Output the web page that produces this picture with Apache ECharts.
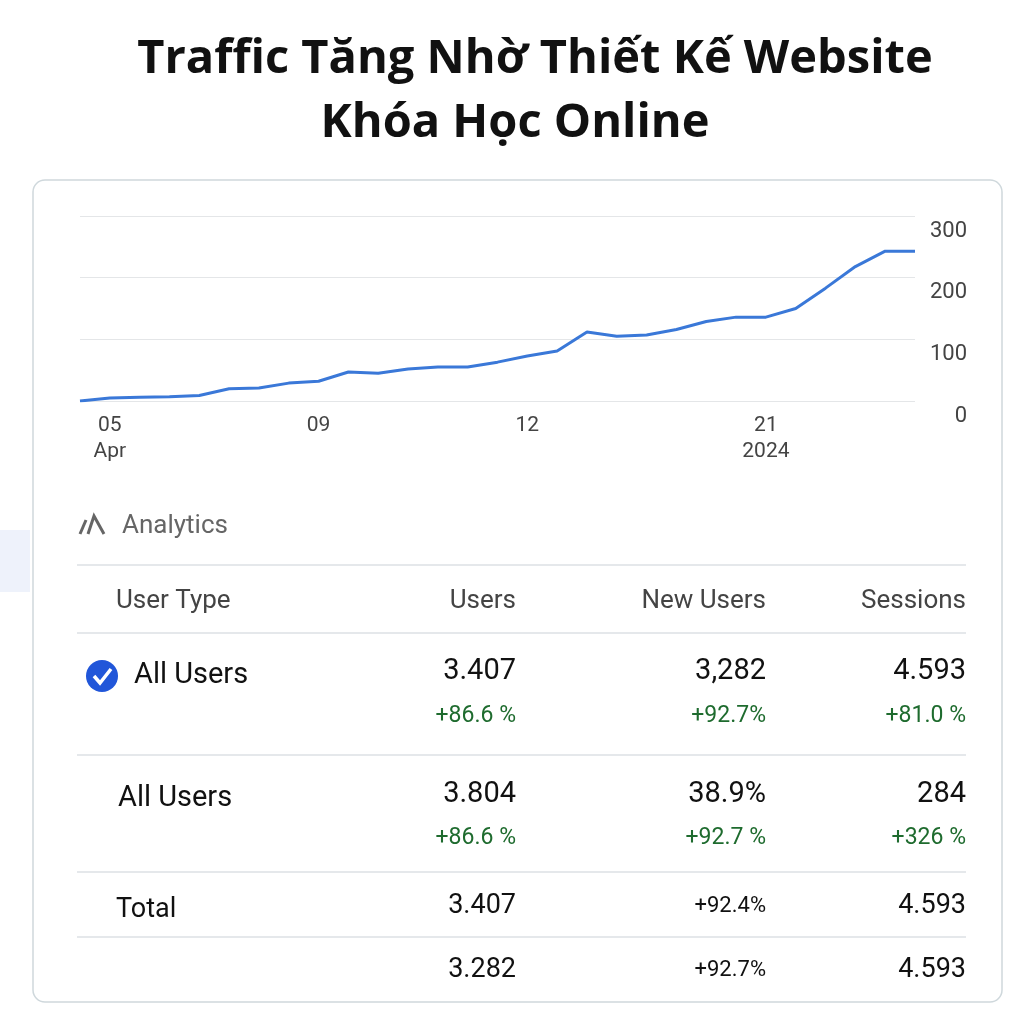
<!DOCTYPE html>
<html><head><meta charset="utf-8">
<script src="https://cdn.jsdelivr.net/npm/echarts@6/dist/echarts.min.js"></script>
<style>html,body{margin:0;background:#fff}#c{width:1024px;height:1024px}</style>
</head><body><div id="c"></div>
<script>
var dates = ['', '05\nApr', '', '', '', '', '', '', '09', '', '', '', '', '', '', '12', '', '', '', '', '', '', '', '21\n2024', '', '', '', '', ''];
var traffic = [0, 5, 6, 7, 9, 20, 21, 29, 32, 47, 45, 52, 55, 55, 63, 73, 81, 112, 105, 107, 116, 129, 136, 136, 150, 183, 218, 243, 243];
var yTicks = [0, 100, 200, 300];

var headers = ['User Type', 'Users', 'New Users', 'Sessions'];
var rowNames = ['All Users', 'All Users', 'Total', ''];
var usersVals = ['3.407', '3.804', '3.407', '3.282'];
var newUsersVals = ['3,282', '38.9%', '+92.4%', '+92.7%'];
var sessionsVals = ['4.593', '284', '4.593', '4.593'];
var usersChg = ['+86.6 %', '+86.6 %', '', ''];
var newUsersChg = ['+92.7%', '+92.7 %', '', ''];
var sessionsChg = ['+81.0 %', '+326 %', '', ''];

var font = 'Roboto, "Noto Sans", sans-serif';
var g = [];
function txt(x, y, s, size, color, align, weight, ff) {
  g.push({type: 'text', x: x, y: y, style: {text: s, fontSize: size, fill: color, fontFamily: ff || font, textAlign: align || 'left', textVerticalAlign: 'middle', fontWeight: weight || 'normal'}});
}
function hline(y) {
  g.push({type: 'line', shape: {x1: 77, y1: y, x2: 966, y2: y}, style: {stroke: '#dde1e4', lineWidth: 1.5}});
}
// card + side artifacts
g.push({type: 'rect', shape: {x: 0, y: 530, width: 30, height: 62}, style: {fill: '#eef2fb'}});
g.push({type: 'rect', shape: {x: 33, y: 180, width: 969, height: 822, r: 12}, style: {fill: 'none', stroke: '#cfd8dc', lineWidth: 1.5}, z: 0});
// title
txt(535, 60, 'Traffic Tăng Nhờ Thiết Kế Website', 47, '#111', 'center', 'bold', '"Open Sans", sans-serif');
txt(515, 124, 'Khóa Học Online', 47, '#111', 'center', 'bold', '"Open Sans", sans-serif');
// analytics label
g.push({type: 'polyline', shape: {points: [[80, 534], [86, 520]]}, style: {stroke: '#666', lineWidth: 3}});
g.push({type: 'polyline', shape: {points: [[88, 534], [94, 516], [104, 534]]}, style: {stroke: '#666', lineWidth: 3, fill: 'none'}});
txt(122, 526, 'Analytics', 26, '#666');
// table
hline(565); hline(633); hline(755); hline(872); hline(937);
txt(116, 601, headers[0], 26, '#444');
txt(516, 601, headers[1], 26, '#444', 'right');
txt(766, 601, headers[2], 26, '#444', 'right');
txt(966, 601, headers[3], 26, '#444', 'right');
var rowY = [672, 795, 906, 970];
var chgY = [716, 838];
g.push({type: 'circle', shape: {cx: 102, cy: 676, r: 16}, style: {fill: '#2156d9'}});
g.push({type: 'polyline', shape: {points: [[94, 676], [100, 683], [111, 669]]}, style: {stroke: '#fff', lineWidth: 3.5, fill: 'none'}});
var nameX = [134, 118, 116, 116];
for (var i = 0; i < rowNames.length; i++) {
  var big = i < 2 ? 29 : 27;
  txt(nameX[i], rowY[i] + 4, rowNames[i], big, '#111');
  txt(516, rowY[i], usersVals[i], big, '#111', 'right');
  txt(766, rowY[i], newUsersVals[i], i < 2 ? 29 : 22, '#111', 'right');
  txt(966, rowY[i], sessionsVals[i], big, '#111', 'right');
  if (usersChg[i]) {
    txt(516, chgY[i], usersChg[i], 23, '#1e6b2e', 'right');
    txt(766, chgY[i], newUsersChg[i], 23, '#1e6b2e', 'right');
    txt(966, chgY[i], sessionsChg[i], 23, '#1e6b2e', 'right');
  }
}

var chart = echarts.init(document.getElementById('c'));
chart.setOption({
  animation: false,
  grid: {left: 80, right: 109, top: 216, bottom: 623},
  xAxis: {
    type: 'category', boundaryGap: false, data: dates,
    axisLine: {show: false}, axisTick: {show: false},
    axisLabel: {interval: 0, color: '#444', fontSize: 21, fontFamily: font, lineHeight: 26, margin: 12}
  },
  yAxis: {
    type: 'value', position: 'right', min: yTicks[0], max: yTicks[3], interval: 100,
    axisLine: {show: false}, axisTick: {show: false},
    axisLabel: {color: '#444', fontSize: 22, fontFamily: font, align: 'right', margin: 52, verticalAlign: 'top', padding: [4, 0, 0, 0]},
    splitLine: {lineStyle: {color: '#e4e6e8', width: 1.2}}
  },
  series: [{
    type: 'line', data: traffic, symbol: 'none',
    lineStyle: {color: '#3a78d8', width: 3}
  }],
  graphic: g
});
</script></body></html>
